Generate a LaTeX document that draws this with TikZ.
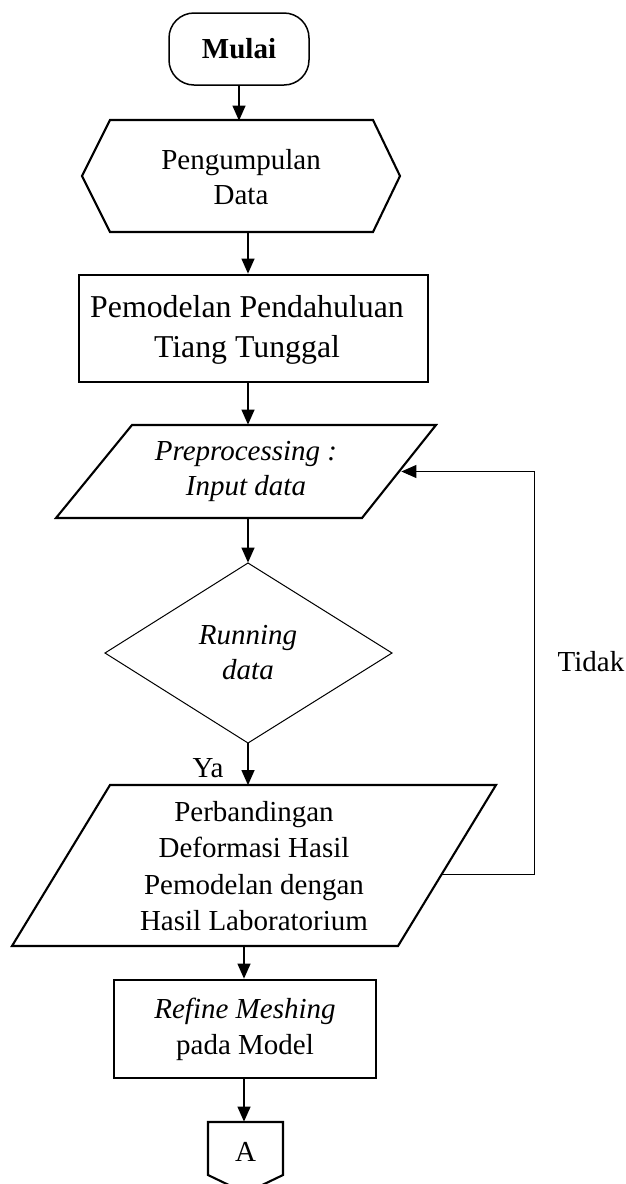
\documentclass[tikz,border=0pt]{standalone}
\usepackage{fontspec}
\setmainfont{Liberation Serif}
\usetikzlibrary{arrows.meta}
\begin{document}
\begin{tikzpicture}[x=0.5pt,y=-0.5pt,
  txt/.style={font=\fontsize{14.5pt}{17.2pt}\selectfont, align=center, inner sep=0pt},
  shp/.style={draw, line width=1.05pt, line join=miter},
  boxline/.style={draw, line width=1.4pt},
  arr/.style={-{Triangle[width=6.5pt,length=7.5pt]}, line width=0.65pt},
  fb/.style={-{Triangle[width=6.5pt,length=7.5pt]}, line width=0.5pt},
]
\useasboundingbox (0,0) rectangle (626,1184);

% start terminal
\node[txt, draw, line width=0.75pt, rounded corners=12.5pt, minimum width=70pt, minimum height=36pt,
  font=\fontsize{14.5pt}{17.2pt}\selectfont\bfseries] (mulai) at (239,49) {Mulai};

% hexagon (preparation)
\draw[shp] (82,176) -- (110,120) -- (373,120) -- (400,176) -- (373,232) -- (110,232) -- cycle;
\node[txt, minimum width=159pt, minimum height=56pt] (hex) at (241,177) {Pengumpulan\\Data};

% process box
\node[txt, boxline, minimum width=174.5pt, minimum height=53.5pt] (model) at (253.5,328.5) {};
\node[txt, font=\fontsize{15.9pt}{20pt}\selectfont] (modeltext) at (247,330) {Pemodelan Pendahuluan\\Tiang Tunggal};

% input parallelogram
\draw[shp] (132,425) -- (436,425) -- (362,518) -- (56,518) -- cycle;
\node[txt, minimum width=155pt, minimum height=46.5pt,
  font=\fontsize{14.5pt}{17.5pt}\selectfont\itshape] (pre) at (246,471.5) {Preprocessing :\\Input data};

% decision diamond
\draw[line width=0.5pt] (248,563) -- (392,653) -- (248,743) -- (105,653) -- cycle;
\node[txt, minimum height=90pt,
  font=\fontsize{14.5pt}{17.5pt}\selectfont\itshape] (run) at (248,653) {Running\\data};

% comparison parallelogram
\draw[shp] (110,785) -- (496,785) -- (398,946) -- (12,946) -- cycle;
\node[txt, minimum width=188pt, minimum height=80.5pt,
  font=\fontsize{14.5pt}{18.2pt}\selectfont] (banding) at (254,866)
  {Perbandingan\\Deformasi Hasil\\Pemodelan dengan\\Hasil Laboratorium};

% refine box
\node[txt, boxline, minimum width=131pt, minimum height=49pt,
  font=\fontsize{14.5pt}{18pt}\selectfont] (refine) at (245,1029)
  {\textit{Refine Meshing}\\pada Model};

% off-page connector
\draw[shp] (208,1122) -- (283,1122) -- (283,1175) -- (245.5,1193) -- (208,1175) -- cycle;
\node[txt, minimum width=37.5pt, minimum height=30pt] (conA) at (245.5,1152) {A};

% connectors
\draw[arr] (mulai.south) -- (mulai.south |- hex.north);
\draw[arr] ([xshift=3.5pt]hex.south) -- ([xshift=3.5pt]hex.south |- model.north);
\draw[arr] ([xshift=-2.75pt]model.south) -- ([xshift=-2.75pt]model.south |- pre.north);
\draw[arr] ([xshift=1pt]pre.south) -- ([xshift=1pt]pre.south |- run.north);
\draw[arr] (run.south) -- (run.south |- banding.north);
\draw[arr] ([xshift=-5pt]banding.south) -- ([xshift=-5pt]banding.south |- refine.north);
\draw[arr] ([xshift=-0.5pt]refine.south) -- ([xshift=-0.5pt]refine.south |- conA.north);

% feedback loop
\coordinate (fbcorner) at (534,471.5);
\draw[fb] ([yshift=-4pt]banding.east) -| (fbcorner) -- (pre.east);

% labels
\node[txt, anchor=base] (ya) at (208,777) {Ya};
\node[txt, anchor=base] (tidak) at (591,671) {Tidak};
\end{tikzpicture}
\end{document}
